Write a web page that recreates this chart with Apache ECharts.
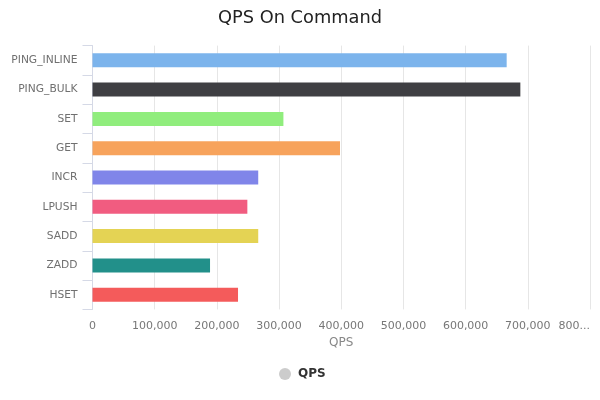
<!DOCTYPE html>
<html>
<head>
<meta charset="utf-8">
<style>html,body{margin:0;padding:0;background:#fff}#main{width:600px;height:400px}</style>
<script src="https://cdn.jsdelivr.net/npm/echarts@6/dist/echarts.min.js"></script>
</head>
<body>
<div id="main"></div>
<script>
/*данные*/
let commands = ['PING_INLINE', 'PING_BULK', 'SET', 'GET', 'INCR', 'LPUSH', 'SADD', 'ZADD', 'HSET'];
let qps = [666000, 688000, 307000, 398000, 266500, 249000, 266500, 189000, 234000];
let barColors = ['#7cb4ec', '#3f3f43', '#90ed7d', '#f7a35c', '#8085e9', '#f15c80', '#e4d354', '#22908a', '#f45b5b'];
let lastTick = 800000;

let myChart = echarts.init(document.getElementById('main'));
let font = 'DejaVu Sans';
let option = {
  animation: false,
  title: {
    text: 'QPS On Command',
    left: 'center',
    top: 4,
    textStyle: {fontFamily: font, fontSize: 17.8, fontWeight: 'normal', color: '#222'}
  },
  legend: {
    bottom: 15,
    left: 274,
    icon: 'circle',
    itemWidth: 12,
    itemHeight: 12,
    itemGap: 8,
    data: ['QPS'],
    textStyle: {fontFamily: font, fontSize: 12, fontWeight: 'bold', color: '#333', padding: [0, 0, 0, 2]}
  },
  grid: {left: 92.5, right: 10, top: 45.6, bottom: 90.6, outerBoundsMode: 'none'},
  xAxis: {
    type: 'value',
    min: 0,
    max: lastTick,
    interval: 100000,
    name: 'QPS',
    nameLocation: 'middle',
    nameGap: 27,
    nameTextStyle: {fontFamily: font, fontSize: 12, color: '#888'},
    axisLine: {show: false},
    axisTick: {show: false},
    splitLine: {lineStyle: {color: '#e6e6e6'}},
    axisLabel: {
      fontFamily: font,
      fontSize: 11,
      color: '#777',
      margin: 11,
      hideOverlap: false,
      alignMaxLabel: 'right',
      // последняя подпись обрезана, как на картинке
      formatter: v => v == lastTick ? '800...' : v.toLocaleString('en-US')
    }
  },
  yAxis: {
    type: 'category',
    inverse: true,
    data: commands,
    axisLine: {show: true, lineStyle: {color: '#d5d9e6'}},
    axisTick: {show: true, length: 10, lineStyle: {color: '#d5d9e6'}},
    axisLabel: {fontFamily: font, fontSize: 10.7, color: '#707070', margin: 15, interval: 0}
  },
  series: [{
    name: 'QPS',
    type: 'bar',
    barWidth: 14,
    itemStyle: {color: '#ccc'},
    data: qps.map((v, i) => ({value: v, itemStyle: {color: barColors[i]}}))
  }]
};
myChart.setOption(option);
</script>
</body>
</html>
